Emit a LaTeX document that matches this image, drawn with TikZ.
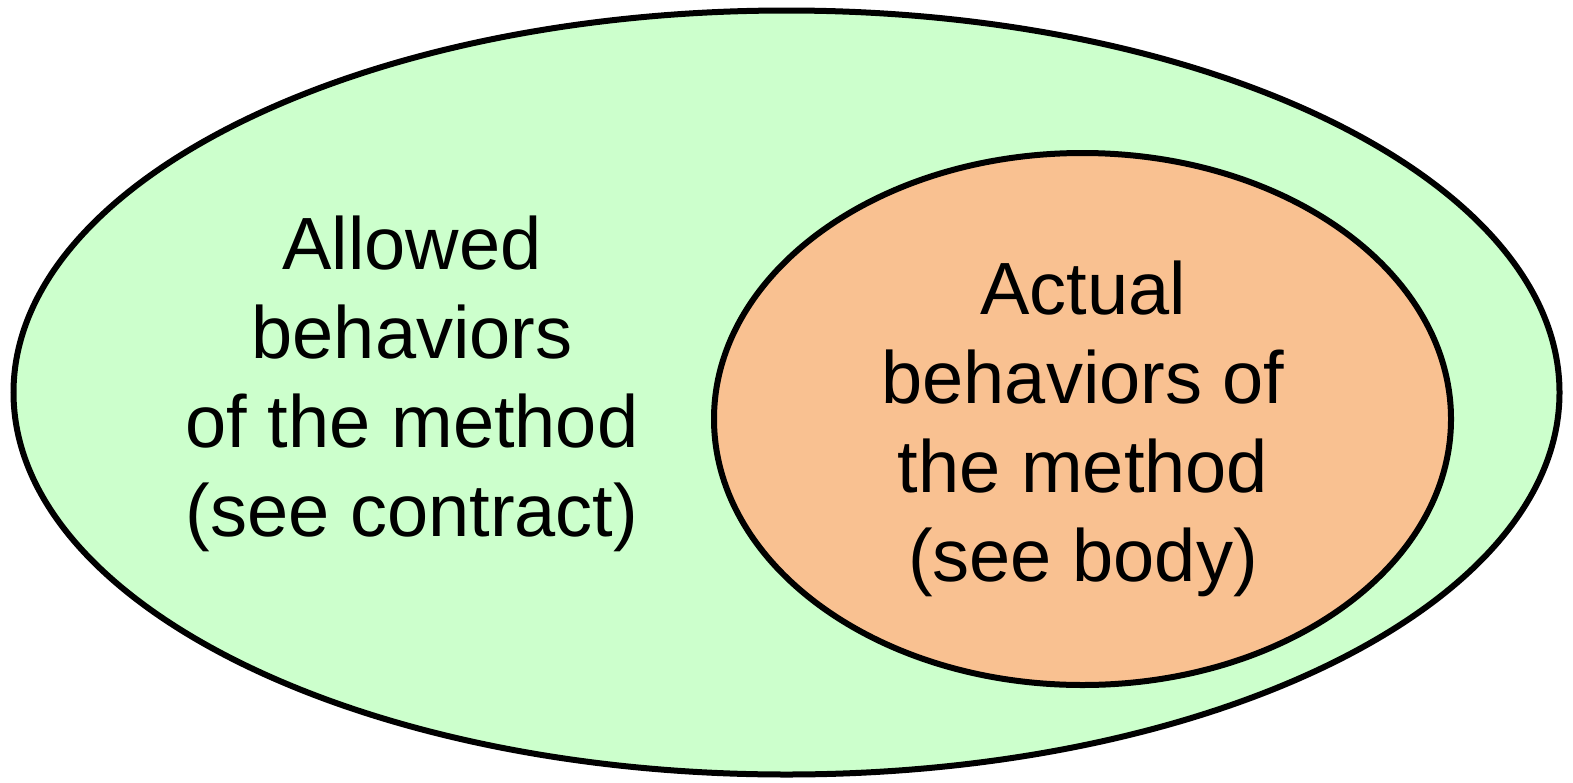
\documentclass[tikz,border=0pt]{standalone}
\usepackage{fontspec}
\setmainfont{Liberation Sans}
\definecolor{outerfill}{HTML}{CCFFCC}
\definecolor{innerfill}{HTML}{F9C191}
\begin{document}
\begin{tikzpicture}[x=1pt,y=-1pt,
  setshape/.style={draw=black,line width=6pt},
  lbl/.style={align=center,font=\fontsize{74}{89}\selectfont,inner sep=0pt}]
\useasboundingbox (0,0) rectangle (1573,782);
\path[setshape,fill=outerfill] (786.5,392.5) ellipse [x radius=773, y radius=382];
\path[setshape,fill=innerfill] (1082.5,419) ellipse [x radius=368.5, y radius=266];
\node[lbl] (allowed) at (412,384) {Allowed\\behaviors\\of the method\\(see contract)};
\node[lbl] (actual) at (1083,429) {Actual\\behaviors of\\the method\\(see body)};
\end{tikzpicture}
\end{document}
